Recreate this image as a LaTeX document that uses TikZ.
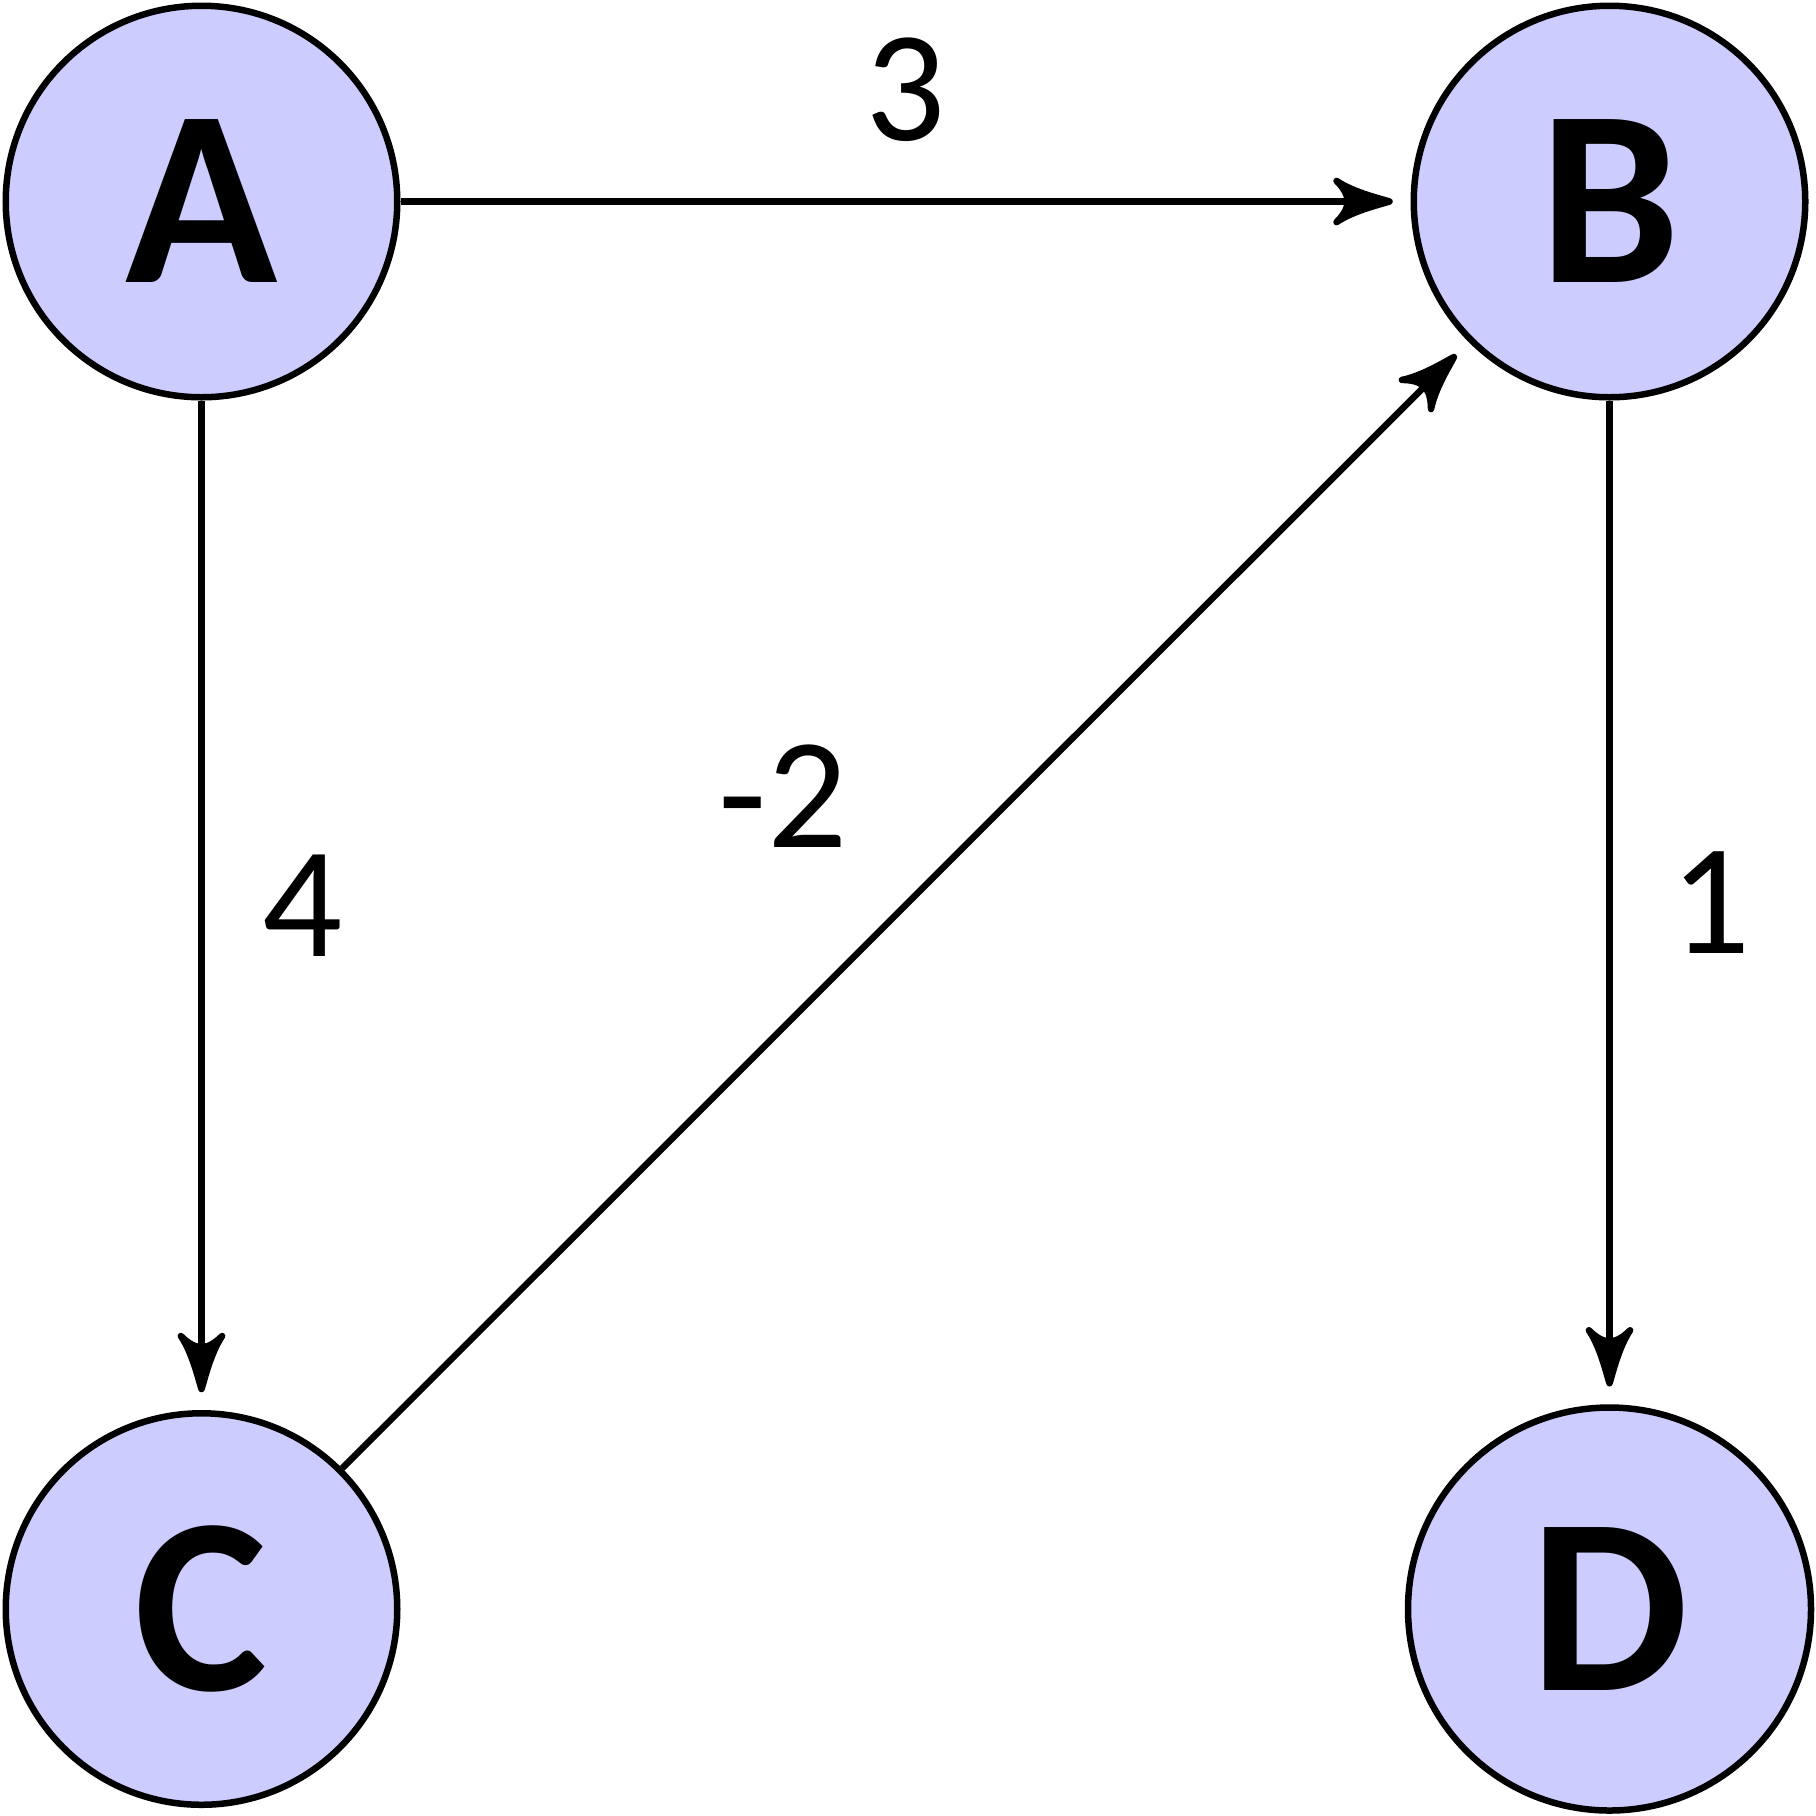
\documentclass[tikz,border=0pt]{standalone}
\usepackage{fontspec}
\setmainfont{Carlito}
\usetikzlibrary{positioning,arrows.meta}
\definecolor{nodefill}{RGB}{204,204,255}

% curved stealth tip, filled and stroked with round joins
\newdimen\barbunit
\pgfdeclarearrow{
  name = Curved Stealth,
  parameters = {\the\pgfarrowlength},
  setup code = {
    \barbunit=0.11111\pgfarrowlength
    \pgfarrowssettipend{5\barbunit}
    \pgfarrowssetbackend{-4\barbunit}
    \pgfarrowssetlineend{-1\barbunit}
    \pgfarrowssavethe\barbunit
  },
  drawing code = {
    \pgfsetdash{}{0pt}
    \pgfsetroundjoin
    \pgfsetroundcap
    \pgfpathmoveto{\pgfqpoint{5\barbunit}{0pt}}
    \pgfpathcurveto{\pgfqpoint{3.5\barbunit}{.5\barbunit}}{\pgfqpoint{-1\barbunit}{1.5\barbunit}}{\pgfqpoint{-4\barbunit}{3.5\barbunit}}
    \pgfpathcurveto{\pgfqpoint{-1.5\barbunit}{1\barbunit}}{\pgfqpoint{-1.5\barbunit}{-1\barbunit}}{\pgfqpoint{-4\barbunit}{-3.5\barbunit}}
    \pgfpathcurveto{\pgfqpoint{-1\barbunit}{-1.5\barbunit}}{\pgfqpoint{3.5\barbunit}{-.5\barbunit}}{\pgfqpoint{5\barbunit}{0pt}}
    \pgfpathclose
    \pgfusepathqfillstroke
  },
  defaults = {length = 5mm}
}

\begin{document}
\begin{tikzpicture}[
    vertex/.style={
        circle,
        draw=black,
        fill=nodefill,
        line width=0.65mm,
        inner sep=5mm,
        minimum size=39.15mm,
        font=\fontsize{71.5}{75}\selectfont\bfseries
    },
    wt/.style={
        inner sep=0pt,
        font=\fontsize{45}{49}\selectfont
    },
    arr/.style={
        -{Curved Stealth[length=5.3mm]},
        line width=0.65mm,
        shorten >=2.1mm
    }
]
\useasboundingbox (0,0) rectangle (18.16,-18.15);

% ============================================================
% VERTICES
% ============================================================

\node[vertex] (A) at (2.015,-2.015) {A};
\node[vertex] (B) at (16.095,-2.015) {B};
\node[vertex] (C) at (2.015,-16.09) {C};
\node[vertex, minimum size=40.3mm] (D) at (16.095,-16.09) {D};

% ============================================================
% WEIGHTED EDGES
% ============================================================

\draw[arr] (A) -- node[wt, above=5.7mm] {3} (B);
\draw[arr] (A) -- node[wt, right=5.8mm] {4} (C);
\draw[arr] (B) -- node[wt, right=5.8mm] {1} (D);
\draw[arr] (C) -- node[wt, above left=5.5mm and 5.5mm] {-2} (B);

\end{tikzpicture}
\end{document}
